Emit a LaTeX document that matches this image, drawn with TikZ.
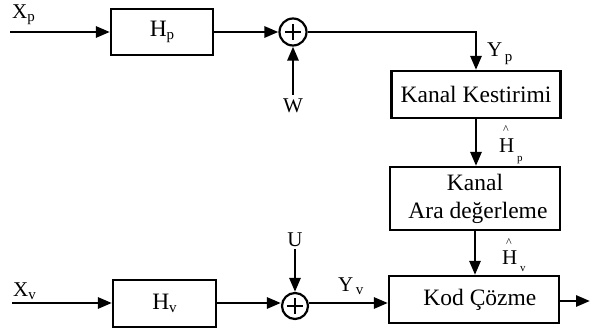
\documentclass[tikz,border=0pt]{standalone}
\usepackage{fontspec}
\setmainfont{Liberation Serif}
\usetikzlibrary{arrows.meta}
\begin{document}
\begin{tikzpicture}[x=1pt,y=-1pt,
  blk/.style={draw,line width=2.2pt,inner sep=0pt,font=\fontsize{23.5}{28}\selectfont,align=center},
  sumnode/.style={draw,circle,line width=2.2pt,minimum size=27pt,inner sep=0pt},
  arr/.style={line width=2.8pt,-{Triangle[length=14pt,width=11pt]}},
  lbl/.style={inner sep=0pt,font=\fontsize{21}{21}\selectfont}]
\useasboundingbox (0,0) rectangle (590,331);
% top row
\coordinate (xp) at (10,32);
\node[blk,minimum width=102pt,minimum height=46pt] (hp) at (162,32) {H\raisebox{-3pt}{\fontsize{15}{15}\selectfont p}};
\node[sumnode] (s1) at (293,32) {};
\draw[line width=1.6pt] ([xshift=-8pt]s1.center) -- ([xshift=8pt]s1.center) ([yshift=-8pt]s1.center) -- ([yshift=8pt]s1.center);
\node[lbl,anchor=base west] (xpl) at (12,19) {X\raisebox{-3pt}{\fontsize{15}{15}\selectfont p}};
\node[lbl] (w) at (293,106) {W};
\node[blk,minimum width=169pt,minimum height=47pt] (kk) at (476,94.5) {Kanal Kestirimi};
\node[blk,minimum width=170pt,minimum height=63pt] (ad) at (475,198.5) {Kanal\\ \ Ara değerleme};
\node[blk,minimum width=170pt,minimum height=47pt] (kc) at (474,299.5) {\ \ Kod Çözme};
\coordinate (turn) at (476,32);
\node[lbl,anchor=base west] (ypl) at (487,57) {Y\raisebox{-5pt}{\fontsize{15}{15}\selectfont\,p}};
\draw[arr] (xp) -- (hp.west);
\draw[arr] (hp.east) -- (s1.west);
\draw[arr] (w.north) ++(0,-4) -- (s1.south);
\draw[arr] (s1.east) -- (turn) -- (kk.north);
\draw[arr] (kk.south) -- (kk.south |- ad.north);
\draw[arr] (ad.south) -- (ad.south |- kc.north);
\node[lbl,anchor=base west] (hpl) at (499,153) {\rlap{\raisebox{19pt}{\hspace{4pt}\fontsize{12}{12}\selectfont\^{}}}H\raisebox{-9pt}{\fontsize{11}{11}\selectfont\ p}};
\node[lbl,anchor=base west] (hvl) at (502,265) {\rlap{\raisebox{18pt}{\hspace{4pt}\fontsize{12}{12}\selectfont\^{}}}H\raisebox{-7pt}{\fontsize{11}{11}\selectfont\ v}};
% bottom row
\coordinate (xv) at (12,303);
\node[lbl,anchor=base west] (xvl) at (13,297) {X\raisebox{-3pt}{\fontsize{15}{15}\selectfont v}};
\node[blk,minimum width=103pt,minimum height=47pt] (hv) at (164.5,303.5) {H\raisebox{-3pt}{\fontsize{15}{15}\selectfont v}};
\node[sumnode,minimum size=26pt] (s2) at (295,306) {};
\draw[line width=1.6pt] ([xshift=-8pt]s2.center) -- ([xshift=8pt]s2.center) ([yshift=-8pt]s2.center) -- ([yshift=8pt]s2.center);
\node[lbl] (u) at (295,240) {U};
\node[lbl,anchor=base west] (yvl) at (338,292) {Y\raisebox{-3pt}{\fontsize{15}{15}\selectfont\,v}};
\coordinate (out) at (590,301);
\draw[arr] (xv) -- (hv.west |- xv);
\draw[arr] (hv.east |- xv) -- (s2.west |- xv);
\draw[arr] (u.south) ++(0,2) -- (s2.north);
\draw[arr] (s2.east |- xv) -- (kc.west |- xv);
\draw[arr] (kc.east |- out) -- (out);
\end{tikzpicture}
\end{document}
